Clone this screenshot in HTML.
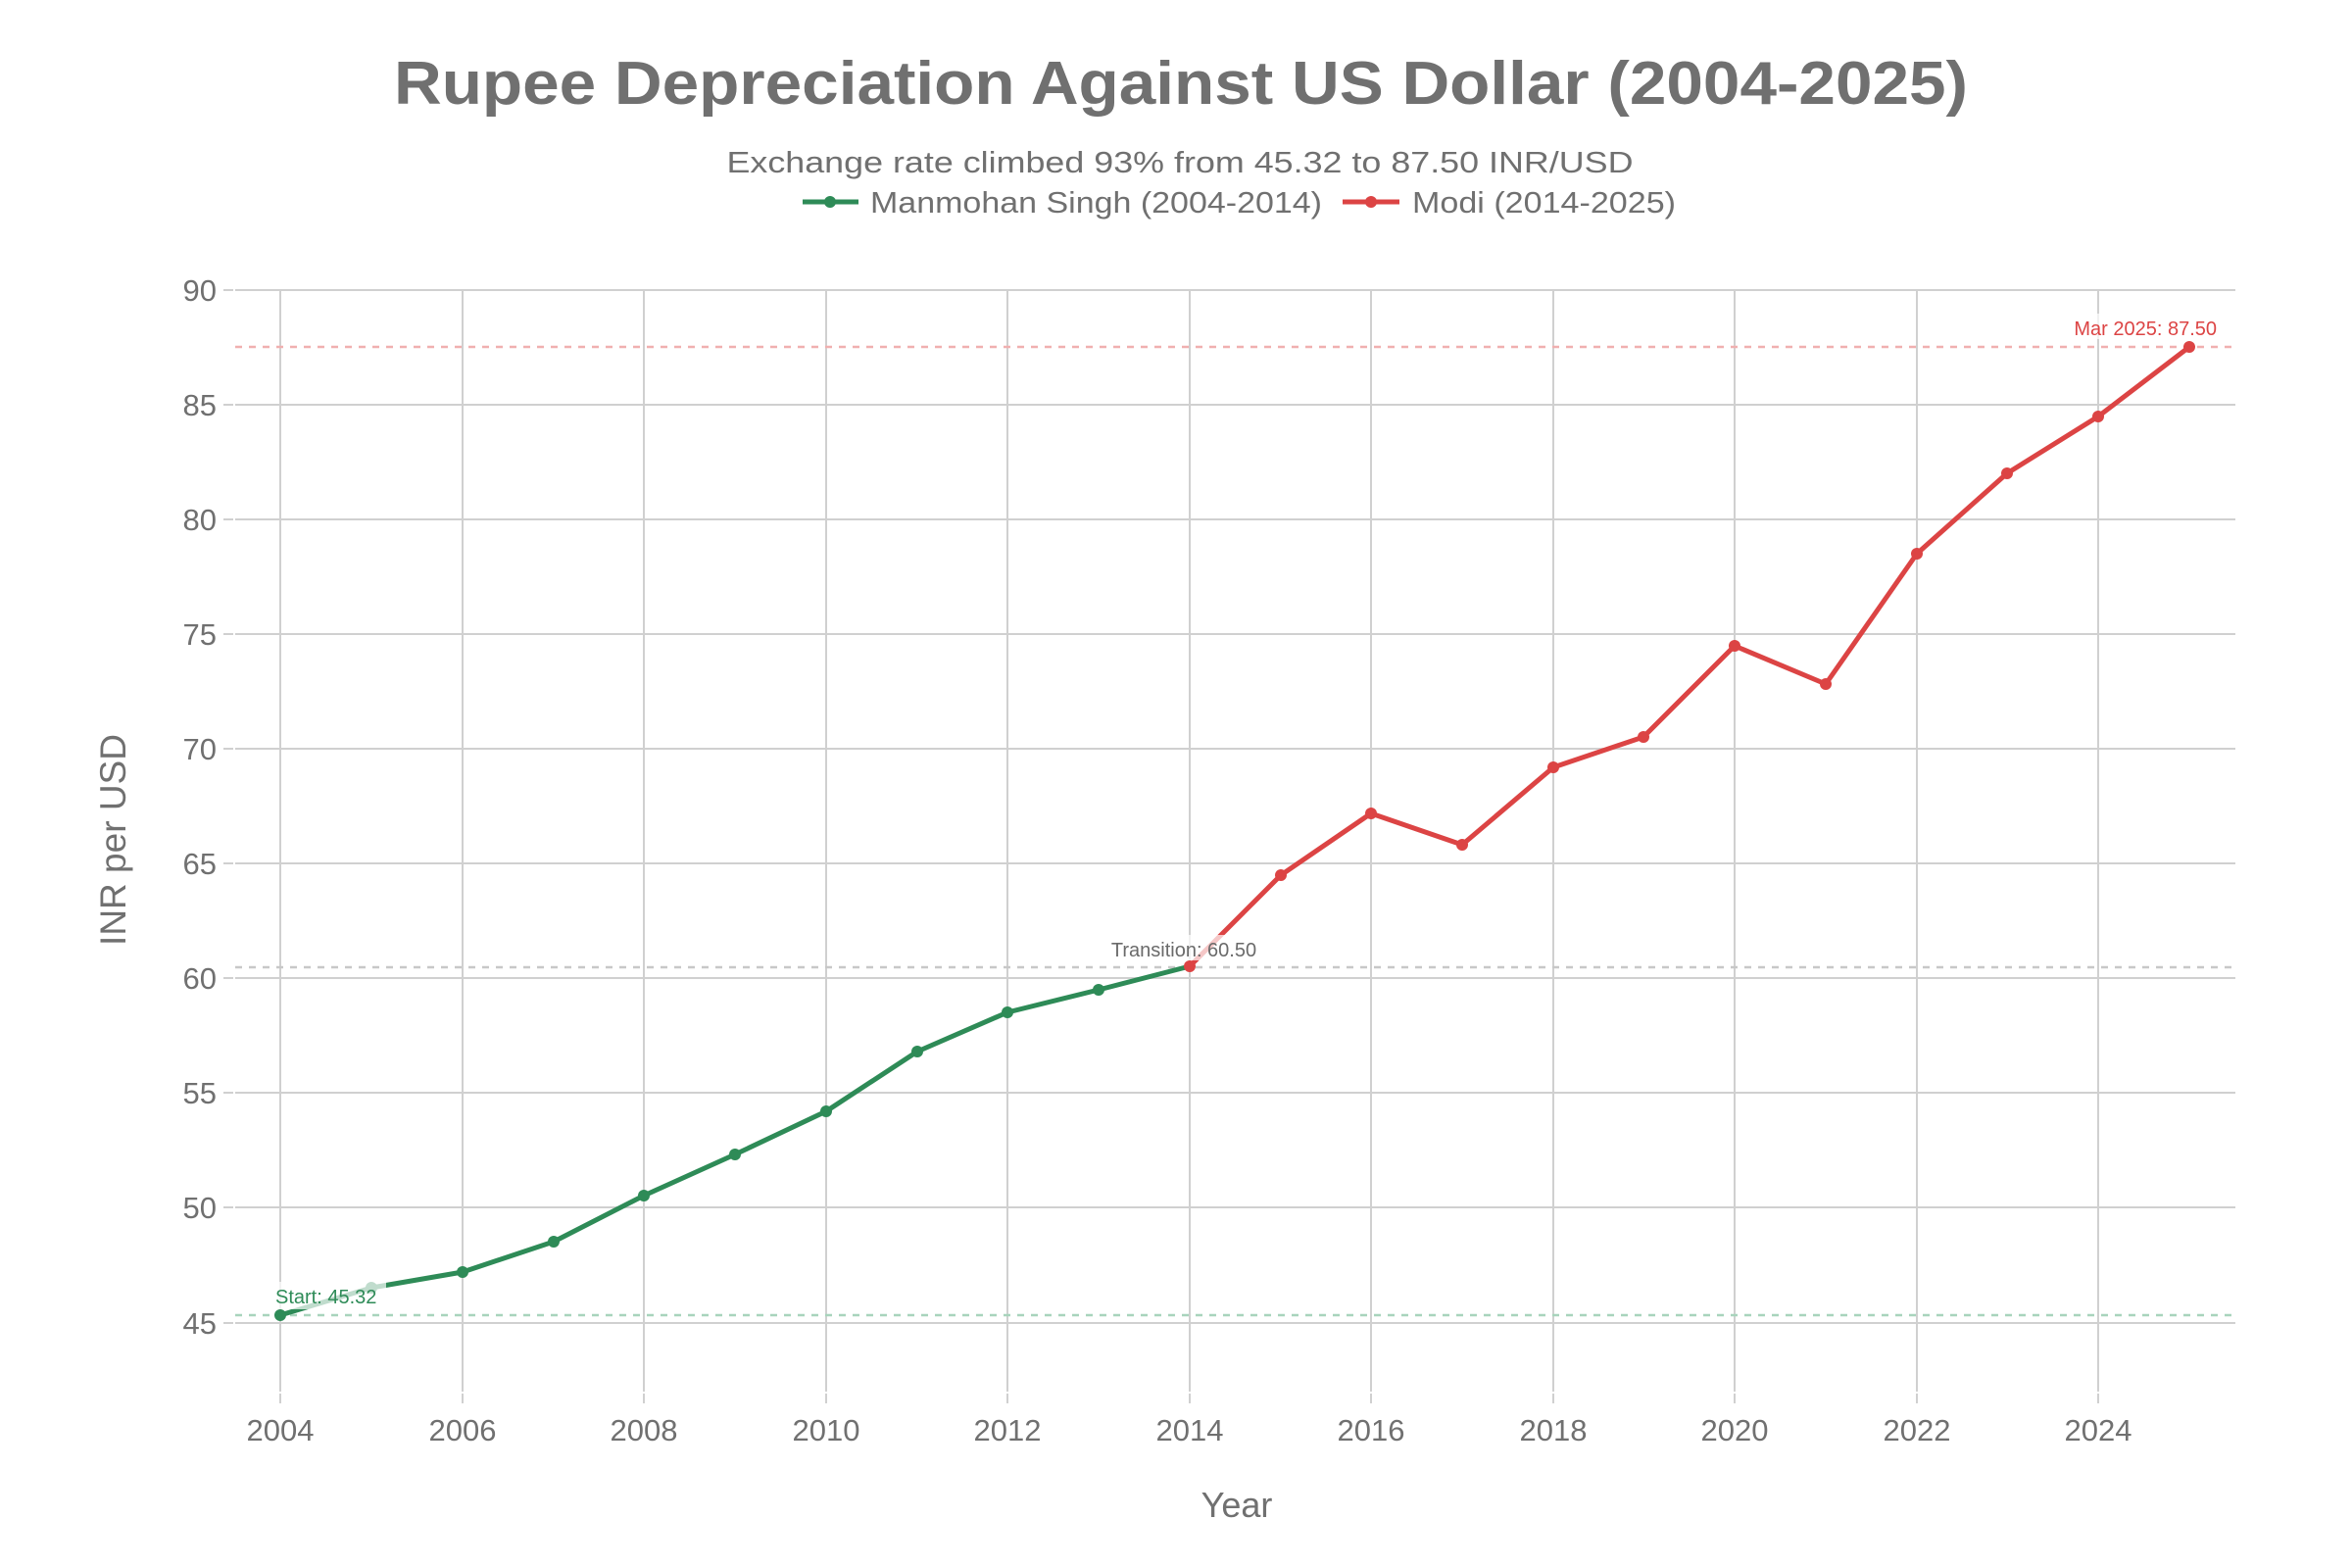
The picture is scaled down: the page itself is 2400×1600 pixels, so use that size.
<!DOCTYPE html>
<html><head><meta charset="utf-8"><style>html,body{margin:0;padding:0;background:#fff;}svg{display:block;}</style></head>
<body>
<svg width="2400" height="1600" viewBox="0 0 2400 1600" xmlns="http://www.w3.org/2000/svg" font-family="Liberation Sans, sans-serif">
<rect width="2400" height="1600" fill="#fff"/>
<g stroke="#d0d0d0" stroke-width="2">
<line x1="240" x2="2281" y1="296" y2="296"/><line x1="240" x2="2281" y1="413" y2="413"/><line x1="240" x2="2281" y1="530" y2="530"/><line x1="240" x2="2281" y1="647" y2="647"/><line x1="240" x2="2281" y1="764" y2="764"/><line x1="240" x2="2281" y1="881" y2="881"/><line x1="240" x2="2281" y1="998" y2="998"/><line x1="240" x2="2281" y1="1115" y2="1115"/><line x1="240" x2="2281" y1="1232" y2="1232"/><line x1="240" x2="2281" y1="1350" y2="1350"/>
<line x1="228" x2="238" y1="296" y2="296"/><line x1="228" x2="238" y1="413" y2="413"/><line x1="228" x2="238" y1="530" y2="530"/><line x1="228" x2="238" y1="647" y2="647"/><line x1="228" x2="238" y1="764" y2="764"/><line x1="228" x2="238" y1="881" y2="881"/><line x1="228" x2="238" y1="998" y2="998"/><line x1="228" x2="238" y1="1115" y2="1115"/><line x1="228" x2="238" y1="1232" y2="1232"/><line x1="228" x2="238" y1="1350" y2="1350"/>
</g>
<g stroke="#d0d0d0" stroke-width="2">
<line x1="286" x2="286" y1="296" y2="1420"/><line x1="472" x2="472" y1="296" y2="1420"/><line x1="657" x2="657" y1="296" y2="1420"/><line x1="843" x2="843" y1="296" y2="1420"/><line x1="1028" x2="1028" y1="296" y2="1420"/><line x1="1214" x2="1214" y1="296" y2="1420"/><line x1="1399" x2="1399" y1="296" y2="1420"/><line x1="1585" x2="1585" y1="296" y2="1420"/><line x1="1770" x2="1770" y1="296" y2="1420"/><line x1="1956" x2="1956" y1="296" y2="1420"/><line x1="2141" x2="2141" y1="296" y2="1420"/>
<line x1="286" x2="286" y1="1422" y2="1432"/><line x1="472" x2="472" y1="1422" y2="1432"/><line x1="657" x2="657" y1="1422" y2="1432"/><line x1="843" x2="843" y1="1422" y2="1432"/><line x1="1028" x2="1028" y1="1422" y2="1432"/><line x1="1214" x2="1214" y1="1422" y2="1432"/><line x1="1399" x2="1399" y1="1422" y2="1432"/><line x1="1585" x2="1585" y1="1422" y2="1432"/><line x1="1770" x2="1770" y1="1422" y2="1432"/><line x1="1956" x2="1956" y1="1422" y2="1432"/><line x1="2141" x2="2141" y1="1422" y2="1432"/>
</g>
<g fill="#707070" font-size="31" text-anchor="end">
<text x="221" y="307">90</text><text x="221" y="424">85</text><text x="221" y="541">80</text><text x="221" y="658">75</text><text x="221" y="775">70</text><text x="221" y="892">65</text><text x="221" y="1009">60</text><text x="221" y="1126">55</text><text x="221" y="1243">50</text><text x="221" y="1361">45</text>
</g>
<g fill="#707070" font-size="31" text-anchor="middle">
<text x="286" y="1470">2004</text><text x="472" y="1470">2006</text><text x="657" y="1470">2008</text><text x="843" y="1470">2010</text><text x="1028" y="1470">2012</text><text x="1214" y="1470">2014</text><text x="1399" y="1470">2016</text><text x="1585" y="1470">2018</text><text x="1770" y="1470">2020</text><text x="1956" y="1470">2022</text><text x="2141" y="1470">2024</text>
</g>
<text x="1262" y="1548" fill="#707070" font-size="36" text-anchor="middle">Year</text>
<text transform="translate(128,857) rotate(-90)" fill="#707070" font-size="37" text-anchor="middle">INR per USD</text>
<g stroke-width="2.5" stroke-dasharray="7,7">
<line x1="240" x2="2281" y1="354" y2="354" stroke="#f0b0b0"/>
<line x1="240" x2="2281" y1="987" y2="987" stroke="#c8c8c8"/>
<line x1="240" x2="2281" y1="1342" y2="1342" stroke="#a8d4bc"/>
</g>
<polyline fill="none" stroke="#2e8b57" stroke-width="5" stroke-linejoin="round" points="286,1342 379,1314 472,1298 565,1267 657,1220 750,1178 843,1134 936,1073 1028,1033 1121,1010 1214,986"/>
<g fill="#2e8b57"><circle cx="286" cy="1342" r="6"/><circle cx="379" cy="1314" r="6"/><circle cx="472" cy="1298" r="6"/><circle cx="565" cy="1267" r="6"/><circle cx="657" cy="1220" r="6"/><circle cx="750" cy="1178" r="6"/><circle cx="843" cy="1134" r="6"/><circle cx="936" cy="1073" r="6"/><circle cx="1028" cy="1033" r="6"/><circle cx="1121" cy="1010" r="6"/></g>
<polyline fill="none" stroke="#dc4444" stroke-width="5" stroke-linejoin="round" points="1214,986 1307,893 1399,830 1492,862 1585,783 1677,752 1770,659 1863,698 1956,565 2048,483 2141,425 2234,354"/>
<g fill="#dc4444"><circle cx="1214" cy="986" r="6"/><circle cx="1307" cy="893" r="6"/><circle cx="1399" cy="830" r="6"/><circle cx="1492" cy="862" r="6"/><circle cx="1585" cy="783" r="6"/><circle cx="1677" cy="752" r="6"/><circle cx="1770" cy="659" r="6"/><circle cx="1863" cy="698" r="6"/><circle cx="1956" cy="565" r="6"/><circle cx="2048" cy="483" r="6"/><circle cx="2141" cy="425" r="6"/><circle cx="2234" cy="354" r="6"/></g>
<rect x="278" y="1308" width="116" height="28" fill="#fff" opacity="0.7"/>
<text x="281" y="1330" fill="#2e8b57" font-size="20">Start: 45.32</text>
<rect x="1124" y="954" width="168" height="26" fill="#fff" opacity="0.7"/>
<text x="1208" y="976" fill="#6a6a6a" font-size="20" text-anchor="middle">Transition: 60.50</text>
<rect x="2106" y="320" width="156" height="26" fill="#fff" opacity="0.7"/>
<text x="2262" y="342" fill="#dc4444" font-size="20" text-anchor="end">Mar 2025: 87.50</text>
<text x="1205" y="106" fill="#707070" font-size="62" font-weight="bold" text-anchor="middle" textLength="1606" lengthAdjust="spacingAndGlyphs">Rupee Depreciation Against US Dollar (2004-2025)</text>
<text x="1204" y="176" fill="#707070" font-size="31" text-anchor="middle" textLength="925" lengthAdjust="spacingAndGlyphs">Exchange rate climbed 93% from 45.32 to 87.50 INR/USD</text>
<line x1="819" x2="876" y1="206" y2="206" stroke="#2e8b57" stroke-width="5"/><circle cx="847" cy="206" r="6" fill="#2e8b57"/>
<text x="888" y="217" fill="#707070" font-size="31" textLength="461" lengthAdjust="spacingAndGlyphs">Manmohan Singh (2004-2014)</text>
<line x1="1370" x2="1428" y1="206" y2="206" stroke="#dc4444" stroke-width="5"/><circle cx="1399" cy="206" r="6" fill="#dc4444"/>
<text x="1441" y="217" fill="#707070" font-size="31" textLength="269" lengthAdjust="spacingAndGlyphs">Modi (2014-2025)</text>
</svg>
</body></html>
